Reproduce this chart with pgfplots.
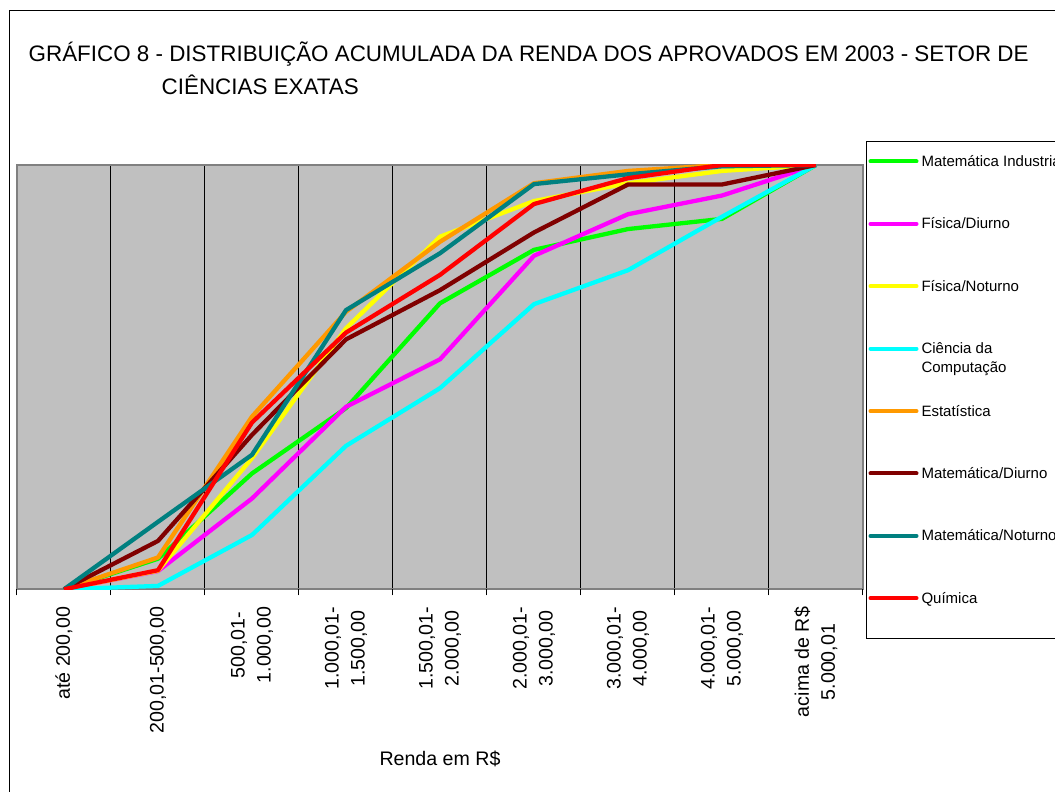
\documentclass[border=0pt]{standalone}
\usepackage{pgfplots}
\pgfplotsset{compat=1.18}
\usepackage{fontspec}
\setmainfont{Liberation Sans}
\definecolor{cgreen}{HTML}{00FF00}
\definecolor{cmagenta}{HTML}{FF00FF}
\definecolor{cyellow}{HTML}{FFFF00}
\definecolor{ccyan}{HTML}{00FFFF}
\definecolor{corange}{HTML}{FF9900}
\definecolor{cmaroon}{HTML}{800000}
\definecolor{cteal}{HTML}{008080}
\definecolor{cred}{HTML}{FF0000}
\definecolor{bggray}{HTML}{C0C0C0}
\definecolor{framegray}{HTML}{808080}
\newcommand{\LS}{\rule[-39.4pt]{0pt}{62.4pt}}
\newcommand{\LSlast}{\rule[-33pt]{0pt}{56pt}}
\begin{document}
\begin{tikzpicture}
\path[use as bounding box] (0,0) rectangle (1055pt,792pt);
\clip (0,0) rectangle (1055pt,792pt);
\draw[black, line width=1pt] (9pt,781pt) rectangle (1100pt,-20pt);
\node[anchor=base west, inner sep=0pt, font=\fontsize{22.4}{26}\selectfont] at (28.5pt,730.5pt) {GRÁFICO 8 - DISTRIBUIÇÃO ACUMULADA DA RENDA DOS APROVADOS EM 2003 - SETOR DE};
\node[anchor=base west, inner sep=0pt, font=\fontsize{22.4}{26}\selectfont] at (161.5pt,697.7pt) {CIÊNCIAS EXATAS};
\begin{axis}[
  at={(17pt,202.7pt)}, anchor=south west,
  width=846pt, height=424.3pt, scale only axis,
  xmin=-0.5, xmax=8.5, ymin=0, ymax=1,
  ytick=\empty,
  xtick={0,...,8},
  xticklabels={{até 200,00},{200,01-500,00},{500,01-\\1.000,00},{1.000,01-\\1.500,00},{1.500,01-\\2.000,00},{2.000,01-\\3.000,00},{3.000,01-\\4.000,00},{4.000,01-\\5.000,00},{acima de R\$\\5.000,01}},
  xticklabel style={rotate=90, anchor=east, align=center, inner sep=0pt, font=\fontsize{19.6}{26}\selectfont},
  xticklabel shift=17.5pt,
  major tick length=0pt,
  xtick pos=bottom,
  extra x ticks={-0.5,0.5,1.5,2.5,3.5,4.5,5.5,6.5,7.5,8.5},
  extra x tick labels={},
  extra x tick style={major tick length=6pt, tick align=outside, tick style={black, line width=1pt}},
  minor xtick={0.5,1.5,2.5,3.5,4.5,5.5,6.5,7.5},
  minor tick length=0pt,
  xminorgrids=true,
  minor grid style={black, line width=1pt},
  axis line style={draw=framegray, line width=2pt},
  axis background/.style={fill=bggray},
  xlabel={Renda em R\$},
  xlabel style={at={(axis description cs:0.5,-0.4148)}, anchor=base, inner sep=0pt, font=\fontsize{19.6}{24}\selectfont},
  legend style={at={(axis description cs:1.00355,1.05657)}, anchor=north west, draw=black, line width=1pt, fill=white, inner sep=2pt, row sep=0pt, column sep=3pt, font=\fontsize{15}{19}\selectfont, cells={anchor=base west}, nodes={inner sep=0pt, text depth=}},
  legend image code/.code={\draw[#1, line width=4pt, line cap=round] (0pt,5pt) -- (46pt,5pt);},
  every axis plot/.append style={line width=4.3pt, line join=round, no markers},
]
\addplot[cgreen] coordinates {(0,0) (1,0.072) (2,0.273) (3,0.427) (4,0.674) (5,0.800) (6,0.849) (7,0.873) (8,1)};
\addlegendentry{\LS Matemática Industrial}
\addplot[cmagenta] coordinates {(0,0) (1,0.043) (2,0.214) (3,0.430) (4,0.542) (5,0.786) (6,0.884) (7,0.928) (8,1)};
\addlegendentry{\LS Física/Diurno}
\addplot[cyellow] coordinates {(0,0) (1,0.044) (2,0.309) (3,0.615) (4,0.831) (5,0.915) (6,0.957) (7,0.986) (8,1)};
\addlegendentry{\LS Física/Noturno}
\addplot[ccyan] coordinates {(0,0) (1,0.008) (2,0.128) (3,0.338) (4,0.474) (5,0.672) (6,0.752) (7,0.878) (8,1)};
\addlegendentry{\LS\begin{tabular}[t]{@{}l@{}}Ciência da\\Computação\end{tabular}}
\addplot[corange] coordinates {(0,0) (1,0.075) (2,0.407) (3,0.654) (4,0.819) (5,0.957) (6,0.986) (7,1.0) (8,1)};
\addlegendentry{\LS Estatística}
\addplot[cmaroon] coordinates {(0,0) (1,0.114) (2,0.364) (3,0.589) (4,0.705) (5,0.841) (6,0.954) (7,0.954) (8,1)};
\addlegendentry{\LS Matemática/Diurno}
\addplot[cteal] coordinates {(0,0) (1,0.159) (2,0.317) (3,0.658) (4,0.792) (5,0.955) (6,0.978) (7,0.997) (8,1)};
\addlegendentry{\LS Matemática/Noturno}
\addplot[cred] coordinates {(0,0) (1,0.045) (2,0.393) (3,0.605) (4,0.741) (5,0.908) (6,0.969) (7,1.0) (8,1)};
\addlegendentry{\LSlast Química}
\end{axis}
\end{tikzpicture}
\end{document}
